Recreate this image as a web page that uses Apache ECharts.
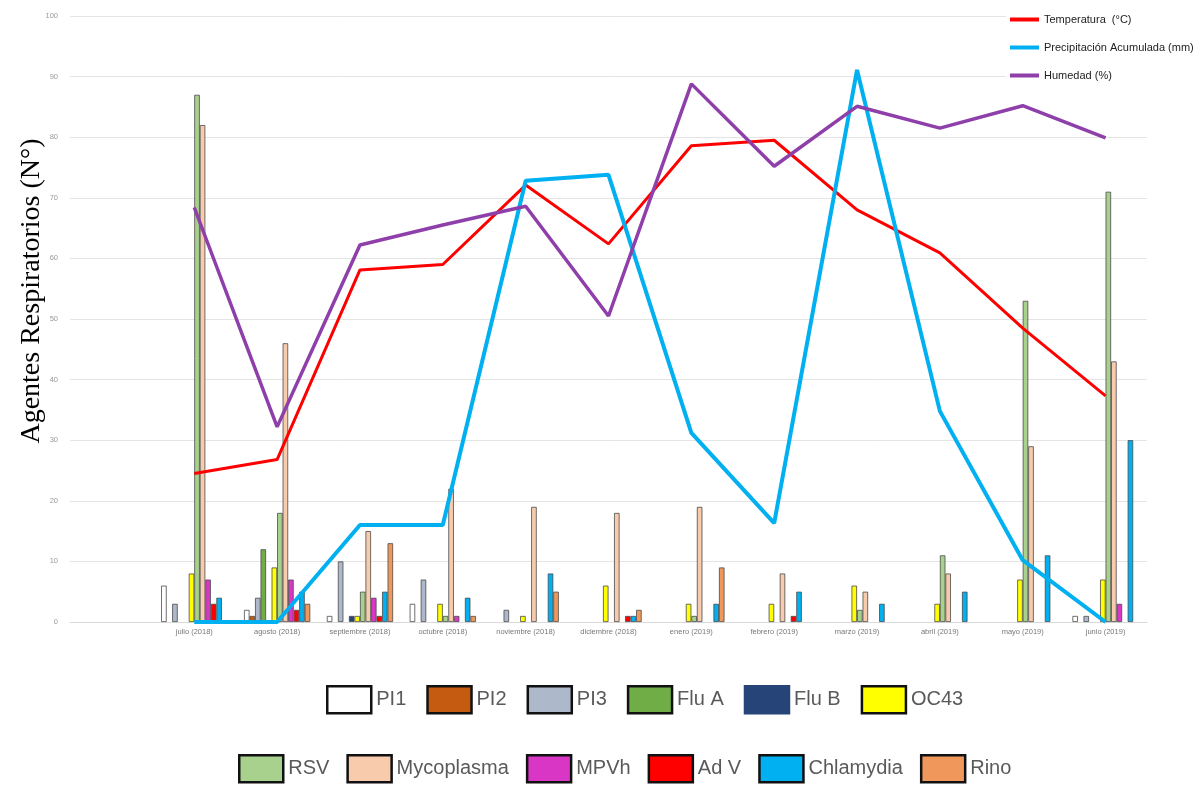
<!DOCTYPE html>
<html>
<head>
<meta charset="utf-8">
<script src="https://cdn.jsdelivr.net/npm/echarts@6/dist/echarts.min.js"></script>
<style>
  html, body { margin: 0; padding: 0; background: #fff; }
  #chart { width: 1204px; height: 789px; }
</style>
</head>
<body>
<div id="chart"></div>
<script>
// Months (a leading blank slot leaves an empty band on the left of the plot)
const months = ['', 'julio (2018)', 'agosto (2018)', 'septiembre (2018)', 'octubre (2018)',
  'noviembre (2018)', 'diciembre (2018)', 'enero (2019)', 'febrero (2019)', 'marzo (2019)',
  'abril (2019)', 'mayo (2019)', 'junio (2019)'];

// Respiratory agents detected per month (julio 2018 .. junio 2019)
const pi1        = [6, 2, 1, 3, 0, 0, 0, 0, 0, 0, 0, 1];
const pi2        = [0, 1, 0, 0, 0, 0, 0, 0, 0, 0, 0, 0];
const pi3        = [3, 4, 10, 7, 2, 0, 0, 0, 0, 0, 0, 1];
const fluA       = [0, 12, 0, 0, 0, 0, 0, 0, 0, 0, 0, 0];
const fluB       = [0, 0, 1, 0, 0, 0, 0, 0, 0, 0, 0, 0];
const oc43       = [8, 9, 1, 3, 1, 6, 3, 3, 6, 3, 7, 7];
const rsv        = [87, 18, 5, 1, 0, 0, 1, 0, 2, 11, 53, 71];
const mycoplasma = [82, 46, 15, 22, 19, 18, 19, 8, 5, 8, 29, 43];
const mpvh       = [7, 7, 4, 1, 0, 0, 0, 0, 0, 0, 0, 3];
const adv        = [3, 2, 1, 0, 0, 1, 0, 1, 0, 0, 0, 0];
const chlamydia  = [4, 5, 5, 4, 8, 1, 3, 5, 3, 5, 11, 30];
const rino       = [0, 3, 13, 1, 5, 2, 9, 0, 0, 0, 0, 0];

// Climate series, plotted on the same scale
const temperatura   = [24.5, 26.8, 58.1, 59.0, 72.1, 62.4, 78.6, 79.5, 68.0, 60.9, 48.5, 37.3];
const precipitacion = [0, 0, 16.0, 16.0, 72.8, 73.8, 31.2, 16.3, 91.1, 34.8, 10.2, 0];
const humedad       = [68.4, 32.2, 62.2, 65.5, 68.6, 50.5, 88.8, 75.2, 85.1, 81.5, 85.2, 79.9];

const yTicks = { min: 0, max: 100, interval: 10 };

const barDefs = [
  { name: 'PI1',        data: pi1,        color: '#FFFFFF' },
  { name: 'PI2',        data: pi2,        color: '#C55A11' },
  { name: 'PI3',        data: pi3,        color: '#ADB9CA' },
  { name: 'Flu A',      data: fluA,       color: '#70AD47' },
  { name: 'Flu B',      data: fluB,       color: '#264478' },
  { name: 'OC43',       data: oc43,       color: '#FFFF00' },
  { name: 'RSV',        data: rsv,        color: '#A9D18E' },
  { name: 'Mycoplasma', data: mycoplasma, color: '#F8CBAD' },
  { name: 'MPVh',       data: mpvh,       color: '#DA36C6' },
  { name: 'Ad V',       data: adv,        color: '#FF0000' },
  { name: 'Chlamydia',  data: chlamydia,  color: '#00B0F0' },
  { name: 'Rino',       data: rino,       color: '#F0985C' }
];

const lineDefs = [
  { name: 'Temperatura  (°C)',            data: temperatura,   color: '#FF0000', width: 3 },
  { name: 'Precipitación Acumulada (mm)', data: precipitacion, color: '#00B0F0', width: 4 },
  { name: 'Humedad (%)',                  data: humedad,       color: '#8E3FAA', width: 3.5 }
];

// pad with a leading null for the empty first band
const pad = arr => [null].concat(arr);

// zero counts get no outline so they leave no trace on the baseline
const barData = arr => pad(arr.map(v => v === 0 ? { value: 0, itemStyle: { borderWidth: 0, opacity: 0 } } : v));

const barSeries = barDefs.map(d => ({
  name: d.name,
  type: 'bar',
  data: barData(d.data),
  barGap: '0%',
  barCategoryGap: '20%',
  itemStyle: { color: d.color, borderColor: '#4a4a4a', borderWidth: 0.8 },
  z: 2
}));

const lineSeries = lineDefs.map(d => ({
  name: d.name,
  type: 'line',
  data: pad(d.data),
  symbol: 'none',
  lineStyle: { color: d.color, width: d.width },
  itemStyle: { color: d.color },
  z: 5
}));

const legendIcon = d => ({
  name: d.name,
  itemStyle: {
    color: d.color,
    borderColor: d.name === 'Flu B' ? d.color : '#111',
    borderWidth: 2.5,
    opacity: 1
  }
});

const legendText = {
  fontFamily: '"Liberation Sans Narrow", "Arial Narrow", "Liberation Sans", sans-serif',
  fontSize: 20,
  color: '#5a5a5a'
};

const chart = echarts.init(document.getElementById('chart'), null, { renderer: 'canvas' });

chart.setOption({
  backgroundColor: '#ffffff',
  animation: false,
  grid: { left: 70, right: 57, top: 16, bottom: 167 },
  xAxis: {
    type: 'category',
    data: months,
    axisLine: { show: true, lineStyle: { color: '#d9d9d9' } },
    axisTick: { show: false },
    axisLabel: { color: '#777', fontSize: 7.5, margin: 6, interval: 0,
      fontFamily: '"Liberation Sans", sans-serif' },
    splitLine: { show: false }
  },
  yAxis: {
    type: 'value',
    min: yTicks.min,
    max: yTicks.max,
    interval: yTicks.interval,
    axisLine: { show: false },
    axisTick: { show: false },
    axisLabel: { color: '#999', fontSize: 7.5, margin: 12,
      fontFamily: '"Liberation Sans", sans-serif' },
    splitLine: { lineStyle: { color: '#e4e4e4', width: 1 } }
  },
  legend: [
    {
      data: lineDefs.map(d => ({ name: d.name, icon: 'rect', itemStyle: { color: d.color } })),
      orient: 'vertical',
      left: 1006,
      top: 6,
      padding: [8, 10, 12, 4],
      backgroundColor: '#ffffff',
      itemWidth: 29,
      itemHeight: 4,
      itemGap: 17,
      textStyle: { fontFamily: '"Liberation Sans Narrow", "Arial Narrow", "Liberation Sans", sans-serif',
        fontSize: 11, color: '#222' }
    },
    {
      data: barDefs.slice(0, 6).map(legendIcon),
      orient: 'horizontal',
      left: 326,
      top: 685,
      padding: 0,
      icon: 'rect',
      itemWidth: 44,
      itemHeight: 27,
      itemGap: 20,
      textStyle: legendText
    },
    {
      data: barDefs.slice(6).map(legendIcon),
      orient: 'horizontal',
      left: 238,
      top: 754,
      padding: 0,
      icon: 'rect',
      itemWidth: 44,
      itemHeight: 27,
      itemGap: 17,
      textStyle: legendText
    }
  ],
  graphic: [
    {
      type: 'text',
      x: 32,
      y: 291,
      rotation: Math.PI / 2,
      style: {
        text: 'Agentes Respiratorios (N°)',
        fontFamily: '"Liberation Serif", "Times New Roman", serif',
        fontSize: 28,
        fill: '#000',
        textAlign: 'center',
        textVerticalAlign: 'middle'
      }
    }
  ],
  series: barSeries.concat(lineSeries)
});
</script>
</body>
</html>
